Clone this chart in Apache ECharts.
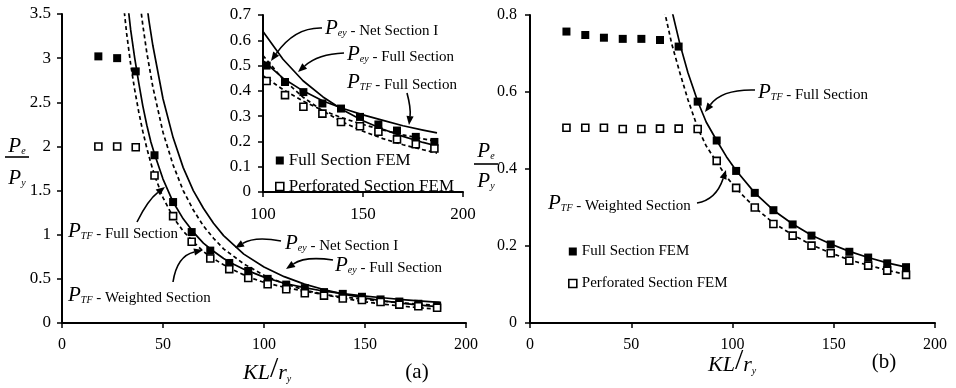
<!DOCTYPE html>
<html>
<head>
<meta charset="utf-8">
<script src="https://cdn.jsdelivr.net/npm/echarts@6/dist/echarts.min.js"></script>
<style>
  html, body { margin: 0; padding: 0; background: #fff; }
  #chart { width: 956px; height: 388px; }
</style>
</head>
<body>
<div id="chart"></div>
<script>
// KL/ry of the FEM models
const slenderness = [18, 27.3, 36.5, 45.8, 55, 64.2, 73.4, 82.8, 92.2, 101.8, 111, 120.2, 129.7, 139, 148.5, 157.7, 167, 176.4, 185.7];

// (a) Pe/Py from FEM
const fullFemA = [3.02, 3.00, 2.85, 1.90, 1.37, 1.03, 0.82, 0.68, 0.59, 0.50, 0.435, 0.395, 0.35, 0.33, 0.297, 0.267, 0.243, 0.218, 0.198];
const perfFemA = [2.00, 2.00, 1.99, 1.67, 1.21, 0.92, 0.73, 0.61, 0.51, 0.439, 0.383, 0.337, 0.31, 0.277, 0.26, 0.238, 0.208, 0.189, 0.172];

// (a) elastic buckling curves
const tfFullAX = [32.5, 34, 36, 38, 40, 42, 44, 46, 50, 55, 60, 65, 70, 74, 80, 85, 90, 95, 100, 110, 120, 130, 140, 150, 160, 170, 180, 187];
const tfFullAY = [3.62, 3.32, 3.0, 2.72, 2.46, 2.24, 2.05, 1.9, 1.63, 1.37, 1.18, 1.03, 0.905, 0.83, 0.73, 0.665, 0.61, 0.565, 0.52, 0.45, 0.40, 0.36, 0.33, 0.305, 0.283, 0.262, 0.245, 0.234];
const tfWeightAX = [30.5, 32, 34, 36, 38, 40, 42, 44, 46, 50, 55, 60, 65, 70, 74, 80, 85, 90, 95, 100, 110, 120, 130, 140, 150, 160, 170, 180, 187];
const tfWeightAY = [3.6, 3.28, 2.93, 2.64, 2.39, 2.17, 1.98, 1.81, 1.66, 1.42, 1.2, 1.04, 0.92, 0.81, 0.74, 0.66, 0.6, 0.545, 0.5, 0.46, 0.405, 0.36, 0.322, 0.292, 0.267, 0.245, 0.226, 0.21, 0.2];
const eyNetAX = [38, 40, 42, 45, 50, 55, 60, 65, 70, 75, 80, 90, 100, 110, 120, 130, 140, 150, 160, 170, 180, 187];
const eyNetAY = [3.74, 3.375, 3.06, 2.67, 2.16, 1.79, 1.5, 1.28, 1.10, 0.96, 0.84, 0.67, 0.54, 0.446, 0.375, 0.32, 0.276, 0.24, 0.211, 0.187, 0.167, 0.154];
const eyFullAX = [41, 43, 45, 50, 55, 60, 65, 70, 75, 80, 90, 100, 110, 120, 130, 140, 150, 160, 170, 180, 187];
const eyFullAY = [3.78, 3.43, 3.14, 2.54, 2.10, 1.76, 1.50, 1.30, 1.13, 0.99, 0.78, 0.635, 0.525, 0.44, 0.376, 0.324, 0.282, 0.248, 0.22, 0.196, 0.182];

// (b) Pe/Py from FEM
const fullFemB = [0.757, 0.748, 0.741, 0.738, 0.738, 0.735, 0.718, 0.575, 0.474, 0.395, 0.338, 0.293, 0.256, 0.227, 0.204, 0.185, 0.17, 0.155, 0.145];
const perfFemB = [0.507, 0.507, 0.507, 0.504, 0.504, 0.505, 0.505, 0.504, 0.421, 0.351, 0.30, 0.257, 0.227, 0.201, 0.181, 0.162, 0.149, 0.136, 0.125];

// (b) torsional-flexural curves
const tfFullBX = [68, 70, 74, 78, 82.8, 87, 92.2, 97, 101.8, 111, 120.2, 129.7, 139, 148.5, 157.7, 167, 176.4, 185.7];
const tfFullBY = [0.86, 0.813, 0.725, 0.65, 0.576, 0.522, 0.474, 0.432, 0.396, 0.338, 0.293, 0.257, 0.228, 0.205, 0.186, 0.17, 0.156, 0.145];
const tfWeightBX = [65.5, 66.2, 70, 74, 78, 82.8, 87, 92.2, 97, 101.8, 111, 120.2, 129.7, 139, 148.5, 157.7, 167, 176.4, 185.7];
const tfWeightBY = [0.83, 0.815, 0.725, 0.65, 0.58, 0.507, 0.46, 0.418, 0.38, 0.349, 0.30, 0.26, 0.229, 0.203, 0.182, 0.164, 0.15, 0.137, 0.126];

// axis ticks
const xTicksMain = { min: 0, max: 200, interval: 50 };
const xTicksInset = { min: 100, max: 200, interval: 50 };
const yTicksA = { min: 0, max: 3.5, interval: 0.5 };
const yTicksInset = { min: 0, max: 0.7, interval: 0.1 };
const yTicksB = { min: 0, max: 0.8, interval: 0.2 };

const FULL = 'Full Section FEM';
const PERF = 'Perforated Section FEM';

const serif = "'Liberation Serif', 'DejaVu Serif', serif";
const zip = (xs, ys) => xs.map((x, i) => [x, ys[i]]);

function xAxis(grid, t, fs, margin) {
  return {
    type: 'value', gridIndex: grid, min: t.min, max: t.max, interval: t.interval,
    axisLine: { show: true, onZero: false, lineStyle: { color: '#000', width: 2 } },
    axisTick: { show: true, length: 5, lineStyle: { color: '#000', width: 1.5 } },
    splitLine: { show: false },
    axisLabel: { color: '#000', fontFamily: serif, fontSize: fs, margin: margin }
  };
}
function yAxis(grid, t, fs, margin) {
  return {
    type: 'value', gridIndex: grid, min: t.min, max: t.max, interval: t.interval,
    axisLine: { show: true, lineStyle: { color: '#000', width: 2 } },
    axisTick: { show: true, length: 5, lineStyle: { color: '#000', width: 1.5 } },
    splitLine: { show: false },
    axisLabel: { color: '#000', fontFamily: serif, fontSize: fs, margin: margin }
  };
}

function curve(idx, data, dashed, name) {
  return {
    type: 'line', name: name, xAxisIndex: idx, yAxisIndex: idx, data: data,
    showSymbol: false, smooth: false, clip: true, silent: true,
    lineStyle: { color: '#000', width: 1.7, type: dashed ? [4, 3] : 'solid', join: 'round' },
    z: 2
  };
}
function fem(idx, ys, filled) {
  return {
    type: 'scatter', name: filled ? FULL : PERF, xAxisIndex: idx, yAxisIndex: idx,
    data: zip(slenderness, ys), symbol: 'rect',
    symbolSize: filled ? 8 : 7,
    itemStyle: filled
      ? { color: '#000', opacity: 1 }
      : { color: '#fff', borderColor: '#000', borderWidth: 1.6, opacity: 1 },
    z: 5
  };
}

// curve label such as "P_TF - Full Section"
function pLabel(x, y, sub, rest, fs) {
  fs = fs || 15;
  return {
    type: 'text', x: x, y: y, z: 10,
    style: {
      text: '{p|P}{s|' + sub + '}{t|' + rest + '}',
      align: 'left', verticalAlign: 'middle',
      rich: {
        p: { fontFamily: serif, fontStyle: 'italic', fontSize: 21, fill: '#000', verticalAlign: 'bottom' },
        s: { fontFamily: serif, fontStyle: 'italic', fontSize: 10, fill: '#000', lineHeight: 4, verticalAlign: 'bottom' },
        t: { fontFamily: serif, fontSize: fs, fill: '#000', verticalAlign: 'bottom' }
      }
    }
  };
}

function arrow(x1, y1, cx, cy, x2, y2) {
  const dx = x2 - cx, dy = y2 - cy, len = Math.hypot(dx, dy);
  const ux = dx / len, uy = dy / len;
  const bx = x2 - ux * 9, by = y2 - uy * 9;
  return [
    { type: 'bezierCurve', z: 10, shape: { x1: x1, y1: y1, cpx1: cx, cpy1: cy, x2: bx, y2: by },
      style: { stroke: '#000', lineWidth: 1.6, fill: null } },
    { type: 'polygon', z: 10, shape: { points: [[x2, y2], [bx - uy * 3.6, by + ux * 3.6], [bx + uy * 3.6, by - ux * 3.6]] },
      style: { fill: '#000' } }
  ];
}

function ratioTitle(cx, yTop, yLine, yBot, w) {
  const rich = {
    p: { fontFamily: serif, fontStyle: 'italic', fontSize: 21, fill: '#000', verticalAlign: 'bottom' },
    s: { fontFamily: serif, fontStyle: 'italic', fontSize: 10, fill: '#000', lineHeight: 4, verticalAlign: 'bottom' }
  };
  return [
    { type: 'text', x: cx, y: yTop, style: { text: '{p|P}{s|e}', align: 'center', verticalAlign: 'middle', rich: rich } },
    { type: 'line', shape: { x1: cx - w / 2, y1: yLine, x2: cx + w / 2, y2: yLine }, style: { stroke: '#000', lineWidth: 1.6 } },
    { type: 'text', x: cx, y: yBot, style: { text: '{p|P}{s|y}', align: 'center', verticalAlign: 'middle', rich: rich } }
  ];
}

function slenderTitle(x, y) {
  return {
    type: 'text', x: x, y: y,
    style: {
      text: '{a|KL}{b|/}{c|r}{d|y}', align: 'left', verticalAlign: 'middle',
      rich: {
        a: { fontFamily: serif, fontStyle: 'italic', fontSize: 22, fill: '#000', verticalAlign: 'bottom' },
        b: { fontFamily: serif, fontSize: 30, fill: '#000', verticalAlign: 'bottom', lineHeight: 30 },
        c: { fontFamily: serif, fontStyle: 'italic', fontSize: 22, fill: '#000', verticalAlign: 'bottom' },
        d: { fontFamily: serif, fontStyle: 'italic', fontSize: 10, fill: '#000', lineHeight: 4, verticalAlign: 'bottom' }
      }
    }
  };
}

const graphics = [].concat(
  // panel (a)
  pLabel(68, 231, 'TF', ' - Full Section'),
  pLabel(68, 295, 'TF', ' - Weighted Section'),
  pLabel(285, 243, 'ey', ' - Net Section I'),
  pLabel(335, 265, 'ey', ' - Full Section'),
  arrow(137, 222, 148, 200, 165, 187),
  arrow(173, 282, 177, 256, 203, 250),
  arrow(281, 241, 255, 236, 235, 248),
  arrow(333, 260, 305, 256, 286, 269),
  // inset
  pLabel(325, 28, 'ey', ' - Net Section I'),
  pLabel(347, 54, 'ey', ' - Full Section'),
  pLabel(347, 82, 'TF', ' - Full Section'),
  arrow(322, 28, 295, 27, 271, 61),
  arrow(344, 53, 318, 54, 298, 72),
  arrow(407, 93, 411, 108, 409, 125),
  // panel (b)
  pLabel(758, 92, 'TF', ' - Full Section'),
  pLabel(548, 203, 'TF', ' - Weighted Section'),
  arrow(755, 90, 722, 89, 705, 112),
  arrow(697, 203, 716, 200, 726, 170),
  // axis titles
  ratioTitle(17, 146, 157, 178, 24),
  ratioTitle(486, 151, 164, 181, 24),
  slenderTitle(243, 369),
  slenderTitle(708, 361),
  { type: 'text', x: 417, y: 372, style: { text: '(a)', align: 'center', verticalAlign: 'middle', fontFamily: serif, fontSize: 21, fill: '#000' } },
  { type: 'text', x: 884, y: 362, style: { text: '(b)', align: 'center', verticalAlign: 'middle', fontFamily: serif, fontSize: 21, fill: '#000' } }
);

const legendBase = {
  orient: 'vertical', selectedMode: false, itemWidth: 8, itemHeight: 8,
  data: [
    { name: FULL, icon: 'rect', itemStyle: { color: '#000', borderWidth: 0, opacity: 1 } },
    { name: PERF, icon: 'rect', itemStyle: { color: '#fff', borderColor: '#000', borderWidth: 1.6, opacity: 1 } }
  ]
};

const chart = echarts.init(document.getElementById('chart'), null, { renderer: 'canvas' });
chart.setOption({
  backgroundColor: '#fff',
  animation: false,
  grid: [
    { left: 62, top: 14, width: 404, height: 309 },
    { left: 263, top: 15, width: 200, height: 177 },
    { left: 530, top: 15, width: 405, height: 308 }
  ],
  xAxis: [xAxis(0, xTicksMain, 16, 14), xAxis(1, xTicksInset, 17, 14), xAxis(2, xTicksMain, 16, 14)],
  yAxis: [yAxis(0, yTicksA, 17, 11), yAxis(1, yTicksInset, 17, 12), yAxis(2, yTicksB, 16, 13)],
  legend: [
    Object.assign({}, legendBase, { left: 270, top: 147, itemGap: 9, textStyle: { fontFamily: serif, fontSize: 17, color: '#000' } }),
    Object.assign({}, legendBase, { left: 563, top: 239, itemGap: 17, textStyle: { fontFamily: serif, fontSize: 15, color: '#000' } })
  ],
  series: [
    curve(0, zip(tfFullAX, tfFullAY), false, 'tfFullA'),
    curve(0, zip(tfWeightAX, tfWeightAY), true, 'tfWeightA'),
    curve(0, zip(eyNetAX, eyNetAY), true, 'eyNetA'),
    curve(0, zip(eyFullAX, eyFullAY), false, 'eyFullA'),
    fem(0, fullFemA, true),
    fem(0, perfFemA, false),
    curve(1, zip(tfFullAX, tfFullAY), false, 'tfFullInset'),
    curve(1, zip(tfWeightAX, tfWeightAY), true, 'tfWeightInset'),
    curve(1, zip(eyNetAX, eyNetAY), true, 'eyNetInset'),
    curve(1, zip(eyFullAX, eyFullAY), false, 'eyFullInset'),
    fem(1, fullFemA, true),
    fem(1, perfFemA, false),
    curve(2, zip(tfFullBX, tfFullBY), false, 'tfFullB'),
    curve(2, zip(tfWeightBX, tfWeightBY), true, 'tfWeightB'),
    fem(2, fullFemB, true),
    fem(2, perfFemB, false)
  ],
  graphic: graphics
});
</script>
</body>
</html>
